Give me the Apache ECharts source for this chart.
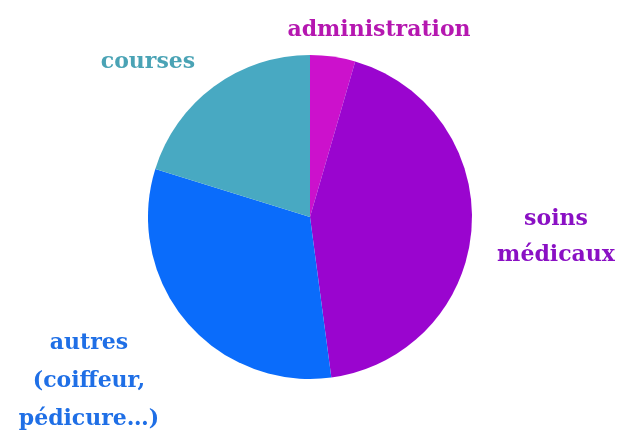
<!DOCTYPE html>
<html>
<head>
<meta charset="utf-8">
<script src="https://cdn.jsdelivr.net/npm/echarts@6/dist/echarts.min.js"></script>
<style>
  html, body { margin: 0; padding: 0; background: #fff; }
  #chart { width: 622px; height: 434px; }
</style>
</head>
<body>
<div id="chart"></div>
<script>
const categories = ['administration', 'soins médicaux', 'autres (coiffeur, pédicure…)', 'courses']
const values = [4.5, 43.4, 31.9, 20.2]
const sliceColors = ['#cc11cc', '#9a05cf', '#0a6cfb', '#48a9c2']
const labelTexts = ['administration', 'soins\nmédicaux', 'autres\n(coiffeur,\npédicure…)', 'courses']
const labelColors = ['#b517b0', '#8a10c4', '#1f6fe6', '#4aa3b5']

const font = '"DejaVu Serif", "Liberation Serif", serif'
const labelPos = [
  { x: 379, y: 30, lh: 35 },
  { x: 556, y: 237, lh: 36 },
  { x: 89, y: 381, lh: 38 },
  { x: 148, y: 62, lh: 35 }
]

const chart = echarts.init(document.getElementById('chart'))

const option = {
  animation: false,
  backgroundColor: '#fff',
  series: [{
    type: 'pie',
    center: [310, 217],
    radius: 162,
    startAngle: 90,
    clockwise: true,
    label: { show: false },
    labelLine: { show: false },
    itemStyle: { borderWidth: 0 },
    data: categories.map((name, i) => ({
      name,
      value: values[i],
      itemStyle: { color: sliceColors[i] }
    }))
  }],
  graphic: labelTexts.map((t, i) => ({
    type: 'text',
    x: labelPos[i].x,
    y: labelPos[i].y,
    style: {
      text: t,
      fill: labelColors[i],
      font: 'bold 22px ' + font,
      lineHeight: labelPos[i].lh,
      align: 'center',
      verticalAlign: 'middle'
    }
  }))
}

chart.setOption(option)
</script>
</body>
</html>
